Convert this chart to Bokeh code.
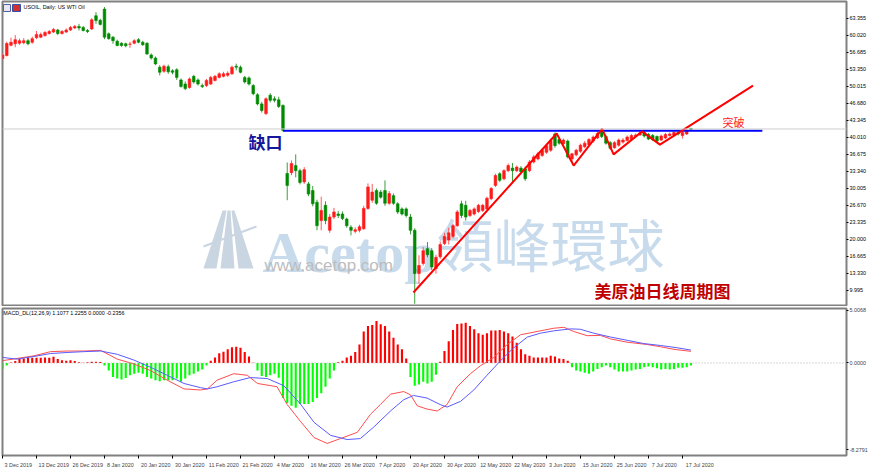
from bokeh.plotting import figure
from bokeh.layouts import column
from bokeh.models import FixedTicker, Span, Label, Range1d
from bokeh.embed import file_html
from bokeh.resources import INLINE
from bokeh.core.properties import value

# ---------------- data ----------------
opens = [55.5, 56.1, 58.1, 58.4, 58.5, 58.6, 59.0, 58.7, 59.6, 59.7,
         60.0, 60.4, 60.7, 61.1, 60.4, 60.7, 61.1, 61.5, 61.8, 61.6,
         61.0, 61.3, 63.9, 63.0, 65.2, 60.35, 59.7, 58.9, 58.5, 58.4,
         58.3, 58.5, 59.2, 58.7, 58.5, 56.2, 55.6, 53.8, 53.0, 53.9,
         53.1, 53.3, 51.3, 50.5, 49.8, 52.0, 51.3, 50.2, 50.2, 50.5,
         51.2, 51.8, 52.0, 52.2, 52.5, 54.0, 53.8, 51.8, 51.7, 50.2,
         48.4, 46.6, 44.7, 48.3, 47.6, 47.4, 46.3, 32.95, 33.1, 34.5,
         33.5, 31.3, 30.9, 29.6, 27.3, 23.7, 26.7, 21.8, 24.4, 25.0,
         25.0, 24.0, 22.4, 21.6, 21.8, 22.1, 26.1, 27.7, 29.6, 29.3,
         29.6, 27.1, 28.6, 27.0, 26.0, 26.0, 24.4, 21.8, 13.3, 15.3,
         18.2, 17.8, 14.3, 16.6, 19.2, 19.9, 20.6, 22.7, 27.0, 26.7,
         24.7, 25.0, 25.5, 25.7, 26.0, 28.0, 30.6, 32.9, 31.9, 33.5,
         34.0, 33.5, 34.0, 33.85, 33.5, 35.2, 35.8, 36.5, 37.1, 37.5,
         40.7, 39.6, 38.8, 39.3, 35.8, 36.6, 37.3, 38.2, 38.6, 39.3,
         39.9, 41.2, 40.2, 39.0, 38.0, 38.5, 39.1, 39.4, 39.6, 40.2,
         40.5, 41.0, 40.6, 40.4, 40.2, 39.5, 39.9, 40.4, 40.5, 41.0,
         40.4, 40.7, 41.75]
highs = [56.6, 58.8, 59.6, 60.1, 59.4, 59.5, 59.3, 59.8, 60.9, 60.6,
         60.9, 61.1, 61.5, 61.3, 61.1, 61.4, 61.9, 62.1, 62.3, 61.9,
         61.3, 63.4, 64.6, 63.3, 65.6, 60.6, 59.9, 59.2, 58.7, 58.6,
         58.8, 59.3, 59.5, 59.0, 58.7, 56.5, 55.9, 54.2, 54.3, 54.3,
         53.4, 53.6, 51.6, 51.0, 51.8, 52.3, 51.6, 50.6, 51.5, 52.1,
         52.3, 52.8, 52.9, 53.0, 54.1, 54.5, 54.1, 52.1, 52.0, 50.5,
         48.7, 47.0, 47.9, 48.7, 48.1, 48.0, 46.5, 35.1, 35.5, 36.7,
         33.9, 34.2, 31.3, 30.5, 27.8, 28.4, 27.5, 25.0, 26.2, 25.6,
         25.5, 24.3, 22.8, 22.4, 22.9, 26.6, 31.0, 30.9, 30.0, 29.7,
         31.6, 29.5, 29.0, 27.3, 26.3, 26.3, 25.0, 22.2, 16.9, 18.5,
         19.5, 18.3, 17.0, 19.6, 21.3, 22.3, 23.0, 25.8, 27.6, 27.6,
         26.0, 26.3, 27.0, 27.0, 28.4, 30.3, 32.9, 33.2, 33.8, 34.9,
         35.0, 34.5, 34.4, 34.3, 35.6, 36.6, 37.2, 37.9, 38.8, 39.8,
         41.0, 40.0, 39.8, 39.6, 37.0, 37.8, 38.8, 39.3, 39.9, 40.4,
         41.2, 41.7, 40.5, 39.3, 39.3, 39.8, 39.9, 40.4, 40.7, 40.8,
         41.2, 41.3, 40.9, 40.7, 40.4, 40.6, 40.9, 41.0, 41.3, 41.3,
         41.4, 41.6, 41.9]
lows = [55.3, 55.9, 57.9, 57.7, 58.2, 58.3, 58.1, 58.4, 59.3, 59.5,
        59.8, 60.2, 60.5, 60.1, 60.2, 60.5, 60.9, 61.3, 61.0, 60.8,
        60.5, 61.1, 62.3, 62.0, 59.3, 59.2, 58.4, 57.9, 57.8, 57.7,
        57.6, 58.3, 58.5, 58.0, 56.2, 55.3, 54.2, 52.2, 52.7, 52.5,
        52.4, 51.3, 49.8, 49.3, 49.6, 50.6, 50.2, 49.7, 49.9, 50.3,
        51.0, 51.6, 51.8, 51.9, 52.3, 53.2, 52.6, 50.6, 50.2, 48.3,
        46.3, 44.9, 44.4, 46.9, 46.9, 45.8, 41.2, 27.7, 32.6, 32.2,
        30.8, 30.9, 28.5, 26.5, 21.8, 21.8, 23.0, 21.3, 24.0, 24.2,
        23.8, 22.3, 20.8, 21.2, 21.4, 21.9, 25.8, 27.2, 26.8, 28.0,
        26.6, 26.8, 26.8, 25.0, 24.7, 24.3, 21.0, 7.4, 11.3, 14.9,
        16.5, 14.0, 13.3, 16.2, 18.9, 19.0, 20.2, 22.5, 24.2, 23.7,
        24.4, 24.7, 25.2, 25.4, 25.7, 27.7, 30.3, 31.3, 31.6, 33.2,
        31.3, 33.2, 33.0, 31.5, 33.2, 34.9, 35.5, 36.2, 36.8, 37.2,
        38.0, 38.6, 38.5, 35.9, 35.2, 36.3, 37.0, 37.9, 38.4, 39.0,
        39.7, 39.9, 38.6, 37.6, 37.8, 38.2, 38.8, 39.2, 39.4, 40.0,
        40.3, 40.0, 39.5, 39.3, 39.0, 39.3, 39.7, 40.2, 40.3, 40.4,
        39.8, 40.5, 41.4]
closes = [56.2, 58.45, 58.7, 59.2, 59.0, 59.0, 58.4, 59.4, 60.2, 60.2,
          60.6, 60.8, 61.2, 60.4, 60.8, 61.1, 61.6, 61.8, 61.5, 61.0,
          60.8, 63.1, 62.95, 62.2, 59.7, 59.4, 59.0, 58.06, 58.06, 58.0,
          58.35, 59.0, 58.7, 58.2, 56.4, 55.6, 54.45, 52.8, 54.0, 52.9,
          52.8, 51.8, 50.0, 49.6, 51.5, 50.9, 50.5, 50.0, 51.2, 51.8,
          52.0, 52.5, 52.5, 52.6, 53.8, 53.8, 52.8, 50.9, 50.5, 48.6,
          46.6, 45.3, 47.6, 47.3, 47.3, 46.1, 41.4, 30.6, 34.9, 33.5,
          31.2, 33.7, 28.9, 27.0, 22.7, 25.7, 23.7, 24.4, 25.4, 24.7,
          24.1, 22.7, 21.8, 21.9, 22.5, 26.1, 30.3, 29.3, 27.1, 28.3,
          27.1, 29.0, 27.1, 25.4, 25.0, 24.7, 21.8, 13.3, 14.9, 17.8,
          17.0, 14.6, 16.5, 19.0, 20.6, 21.3, 22.7, 25.4, 24.7, 24.4,
          25.7, 26.0, 26.7, 26.7, 28.1, 30.0, 32.55, 31.6, 33.5, 34.5,
          33.5, 34.2, 33.3, 31.9, 35.2, 36.2, 36.8, 37.5, 38.4, 39.4,
          38.4, 38.9, 39.5, 36.2, 36.8, 37.5, 38.5, 38.9, 39.6, 40.1,
          40.8, 40.2, 38.9, 37.9, 39.0, 39.5, 39.5, 40.1, 40.4, 40.5,
          40.9, 40.3, 39.7, 39.6, 39.3, 40.3, 40.6, 40.7, 41.0, 40.7,
          41.0, 41.3, 41.6]

hist = [-0.56, -0.25, 0.05, 0.20, 0.37, 0.43, 0.50, 0.50, 0.50, 0.50,
        0.53, 0.50, 0.59, 0.37, 0.25, 0.22, 0.25, 0.19, 0.06, 0.03,
        0.06, 0.12, 0.12, 0.09, -0.25, -0.71, -1.33, -1.48, -1.58, -1.42,
        -1.17, -1.02, -0.93, -1.02, -1.33, -1.48, -1.64, -1.73, -1.64, -1.64,
        -1.64, -1.48, -1.79, -1.48, -1.17, -1.02, -0.80, -0.62, -0.25, 0.22,
        0.53, 0.93, 1.08, 1.30, 1.51, 1.55, 1.45, 1.05, 0.62, 0.02,
        -0.71, -1.24, -1.33, -1.17, -1.02, -1.40, -3.34, -3.80, -4.08, -4.26,
        -3.90, -3.90, -3.90, -3.71, -3.34, -2.88, -2.26, -1.48, -0.71, 0.06,
        0.22, 0.53, 0.68, 1.05, 1.76, 3.00, 3.52, 3.62, 4.00, 3.70,
        3.52, 3.00, 2.40, 1.76, 1.30, 0.43, -1.33, -2.16, -2.04, -1.79,
        -1.95, -1.79, -1.11, 0.12, 1.14, 2.07, 3.15, 3.71, 3.77, 3.83,
        3.52, 3.21, 2.84, 2.69, 2.84, 3.09, 3.09, 3.15, 3.00, 2.84,
        2.53, 1.92, 1.30, 0.83, 0.68, 0.53, 0.53, 0.53, 0.53, 0.68,
        0.62, 0.43, 0.37, 0.22, -0.40, -0.71, -0.80, -0.93, -1.02, -0.80,
        -0.56, -0.40, -0.25, -0.40, -0.62, -0.80, -0.80, -0.80, -0.71, -0.62,
        -0.56, -0.40, -0.34, -0.40, -0.49, -0.62, -0.56, -0.62, -0.56, -0.46,
        -0.46, -0.40, -0.25]

macd_x = [0, 3.4, 7.4, 11.3, 15.2, 19.1, 23.1, 27, 30.9, 34.8, 38.8, 42.7, 46.6,
          48.2, 50.5, 54.4, 57.6, 60, 64.6, 67, 70.1, 73.3, 76.4, 79.5, 83.5,
          86.6, 88.9, 91.3, 94.4, 96, 97.6, 99.9, 102.3, 104.6, 107, 110.1,
          112.5, 115.6, 118.8, 121.9, 125.8, 129.7, 132.1, 134.4, 137.6, 140.7,
          143.1, 147, 151.7, 154.8, 158, 162]
macd_y = [0.22, 0.43, 0.68, 1.08, 1.14, 1.14, 1.20, 0.37, -0.09, -0.71, -1.64, -2.47, -2.57,
          -2.47, -1.64, -1.02, -1.17, -1.95, -2.26, -3.96, -5.56, -7.10, -7.66, -7.20, -6.60,
          -4.88, -3.96, -2.97, -2.72, -3.03, -4.08, -4.39, -4.57, -3.96, -2.26, -1.02,
          -0.25, 0.53, 1.76, 2.69, 3.00, 3.31, 3.40, 3.00, 2.60, 2.63,
          2.29, 1.98, 1.76, 1.55, 1.30, 1.11]
signal_x = [0, 3.4, 7.4, 11.3, 15.2, 19.1, 23.1, 27, 30.9, 34.8, 38.8, 42.7, 46.6,
            48.2, 50.5, 54.4, 58.3, 62.3, 66.2, 70.1, 73.3, 77.2, 81.1, 84.2,
            87.3, 91.3, 94.4, 96.7, 99.9, 103, 104.6, 107.8, 110.9, 114, 117.2,
            120.3, 123.5, 126.6, 129.7, 133.7, 136, 139.1, 143.1, 147, 150.9,
            154.8, 158.8, 162]
signal_y = [0.53, 0.37, 0.62, 0.90, 1.00, 1.08, 1.14, 0.83, 0.28, -0.40, -1.17, -1.95, -2.35,
            -2.47, -2.26, -1.79, -1.39, -1.48, -2.16, -3.90, -5.65, -6.89, -7.29, -7.20,
            -6.12, -4.57, -3.50, -3.09, -3.34, -3.96, -4.20, -3.65, -2.57, -1.17, 0.22,
            1.45, 2.47, 2.84, 3.06, 3.25, 3.21, 2.84, 2.47, 2.16, 1.85,
            1.67, 1.45, 1.23]

date_labels = ["3 Dec 2019", "13 Dec 2019", "26 Dec 2019", "8 Jan 2020", "20 Jan 2020",
               "30 Jan 2020", "11 Feb 2020", "21 Feb 2020", "4 Mar 2020", "16 Mar 2020",
               "26 Mar 2020", "7 Apr 2020", "20 Apr 2020", "30 Apr 2020", "12 May 2020",
               "22 May 2020", "3 Jun 2020", "15 Jun 2020", "25 Jun 2020", "7 Jul 2020",
               "17 Jul 2020"]
price_ticks = [63.355, 60.020, 56.685, 53.350, 50.015, 46.680, 43.345, 40.010,
               36.675, 33.340, 30.005, 26.670, 23.335, 20.000, 16.665, 13.330, 9.995]
price_tick_labels = ["63.355", "60.020", "56.685", "53.350", "50.015", "46.680", "43.345",
                     "40.010", "36.675", "33.340", "30.005", "26.670", "23.335", "20.000",
                     "16.665", "13.330", "9.995"]
macd_ticks = [5.0068, 0.0, -8.2791]
macd_tick_labels = ["5.0068", "0.0000", "-8.2791"]

gap_x = [66, 178.8]
gap_y = [41.35, 41.35]
trend_x = [96.7, 130.4, 134.4, 141.1, 143.8, 150.5, 154.7, 176.6]
trend_y = [9.6, 40.8, 34.5, 41.7, 36.7, 41.2, 38.6, 50.2]
bid_price = 41.68

# ---------------- helpers ----------------
n = len(opens)
idx = list(range(n))
UP, DOWN = "#ff1a1a", "#008a00"
UPW, DOWNW = "#ff5a5a", "#3c9e3c"
body_col = [UP if c >= o else DOWN for o, c in zip(opens, closes)]
wick_col = [UPW if c >= o else DOWNW for o, c in zip(opens, closes)]
body_top = [max(o, c) for o, c in zip(opens, closes)]
body_bot = [min(o, c) for o, c in zip(opens, closes)]

PX_PER_BAR = 4.25


def rx(px):  # reference-picture pixel -> bar index (decorations only)
    return (px - 2) / PX_PER_BAR


def ry(py):  # reference-picture pixel -> price (decorations only)
    return 63.355 - (py - 18) / 5.097


FONT = "Liberation Sans"
GRAY = "#808080"
SMALL_PX = 5.4
SMALL = f"{SMALL_PX}px"
xr = Range1d(0, 198.6)

# ---------------- price panel ----------------
p1 = figure(width=870, height=306, x_range=xr, y_range=Range1d(6.85, 66.69),
            y_axis_location="right", x_axis_location=None,
            output_backend="svg", toolbar_location=None,
            min_border_left=2, min_border_right=24, min_border_top=1, min_border_bottom=0)
p1.grid.visible = False
p1.outline_line_color = GRAY
p1.outline_line_width = 2
p1.background_fill_color = "white"

# watermark (behind candles)
logo_xs = [[rx(203), rx(216), rx(226), rx(222)],
           [rx(220), rx(234), rx(230), rx(227)],
           [rx(238), rx(253), rx(234), rx(231)]]
logo_ys = [[ry(268), ry(268), ry(210), ry(210)]] * 3
p1.patches(logo_xs, logo_ys, fill_color="#c9d5e1", line_color=None, level="underlay")
p1.line([rx(203), rx(256)], [ry(246), ry(226)], line_color="#c9d5e1", line_width=2, level="underlay")
p1.text(x=[rx(262)], y=[ry(252)], text=["Acetop"], text_font=value("Liberation Serif"),
        text_font_style="bold", text_font_size="58px", text_color="#c8dbec",
        text_align="left", text_baseline="alphabetic", level="underlay")
p1.text(x=[rx(436)], y=[ry(242)], text=["領峰環球"], text_font=value("Noto Sans CJK TC"),
        text_font_size="57px", text_color="#c8dbec",
        text_align="left", text_baseline="middle", level="underlay")
p1.text(x=[rx(264)], y=[ry(265)], text=["www.acetop.com"], text_font=value(FONT),
        text_font_size="17px", text_color="#bdbdbd",
        text_align="left", text_baseline="middle", level="underlay")

# small window icon next to the title
p1.quad(left=[rx(3), rx(12)], right=[rx(10), rx(20)], bottom=[ry(11), ry(11)], top=[ry(4), ry(4)],
        fill_color=["#e8e8f4", "#d03030"], line_color=["#5060a0", "#3050b0"], line_width=1)

p1.add_layout(Span(location=bid_price, dimension="width", line_color="#cfcfcf", line_width=1))

p1.segment(idx, highs, idx, lows, line_color=wick_col, line_width=1)
p1.vbar(x=idx, top=body_top, bottom=body_bot, width=0.62,
        fill_color=body_col, line_color=body_col, line_width=0.6)

p1.line(gap_x, gap_y, line_color="#0000ff", line_width=2)
p1.line(trend_x, trend_y, line_color="#ff0000", line_width=2)

p1.add_layout(Label(x=rx(248), y=ry(141), text="缺口", text_font="Noto Sans CJK SC",
                    text_font_style="bold", text_font_size="17px", text_color="#16169c",
                    text_baseline="middle", text_align="left"))
p1.add_layout(Label(x=rx(722), y=ry(121.5), text="突破", text_font="Noto Sans CJK SC",
                    text_font_size="11px", text_color="#ff1a1a",
                    text_baseline="middle", text_align="left"))
p1.add_layout(Label(x=rx(594), y=ry(290.5), text="美原油日线周期图", text_font="Noto Sans CJK SC",
                    text_font_style="bold", text_font_size="17px", text_color="#c00000",
                    text_baseline="middle", text_align="left"))
p1.add_layout(Label(x=rx(23), y=ry(7), text="USOIL, Daily: US WTI Oil", text_font=FONT,
                    text_font_size=SMALL, text_color="#000000",
                    text_baseline="middle", text_align="left"))

yax = p1.yaxis[0]
yax.ticker = FixedTicker(ticks=price_ticks)
yax.major_label_overrides = dict(zip(price_ticks, price_tick_labels))
yax.major_label_text_font = FONT
yax.major_label_text_font_size = SMALL
yax.major_label_text_color = "#000000"
yax.axis_line_color = GRAY
yax.major_tick_line_color = "#000000"
yax.major_tick_out = 2
yax.major_tick_in = 0
yax.minor_tick_line_color = None
yax.major_label_standoff = 1

# ---------------- MACD panel ----------------
p2 = figure(width=870, height=164, x_range=xr, y_range=Range1d(-8.81, 5.19),
            y_axis_location="right", output_backend="svg", toolbar_location=None,
            min_border_left=2, min_border_right=24, min_border_top=2, min_border_bottom=11)
p2.grid.visible = False
p2.outline_line_color = GRAY
p2.outline_line_width = 2

p2.add_layout(Span(location=0, dimension="width", line_color="#b0b0b0",
                   line_width=1, line_dash="1 2"))
hist_col = ["#ff0000" if v >= 0 else "#00ff00" for v in hist]
p2.vbar(x=idx, top=hist, bottom=0, width=0.5, fill_color=hist_col, line_color=None)
p2.line(macd_x, macd_y, line_color="#ff4d4d", line_width=1)
p2.line(signal_x, signal_y, line_color="#5a5aff", line_width=1)

p2.add_layout(Label(x=0.2, y=4.78, text="MACD_DL(12,26,9) 1.1077 1.2255 0.0000 -0.2356",
                    text_font=FONT, text_font_size=SMALL, text_color="#000000",
                    text_baseline="middle", text_align="left"))

yax2 = p2.yaxis[0]
yax2.ticker = FixedTicker(ticks=macd_ticks)
yax2.major_label_overrides = dict(zip(macd_ticks, macd_tick_labels))
yax2.major_label_text_font = FONT
yax2.major_label_text_font_size = SMALL
yax2.axis_line_color = GRAY
yax2.major_tick_line_color = "#000000"
yax2.major_tick_out = 2
yax2.major_tick_in = 0
yax2.minor_tick_line_color = None
yax2.major_label_standoff = 1

# date axis: tick marks (minor ticks) at the bars, labels placed to their right (MT4 style)
tick_idx = list(range(0, 8 * len(date_labels), 8))
label_pos = [t + (len(s) * 0.53 * SMALL_PX / 2 + 1.5) / PX_PER_BAR
             for t, s in zip(tick_idx, date_labels)]
xax = p2.xaxis[0]
xax.ticker = FixedTicker(ticks=label_pos, minor_ticks=tick_idx)
xax.major_label_overrides = dict(zip(label_pos, date_labels))
xax.major_label_text_font = FONT
xax.major_label_text_font_size = SMALL
xax.axis_line_color = GRAY
xax.major_tick_line_color = None
xax.minor_tick_line_color = "#000000"
xax.minor_tick_out = 3
xax.minor_tick_in = 0
xax.major_label_standoff = 0

layout = column(p1, p2, spacing=0)
open("out.html", "w").write(file_html(layout, INLINE, title="USOIL Daily"))
